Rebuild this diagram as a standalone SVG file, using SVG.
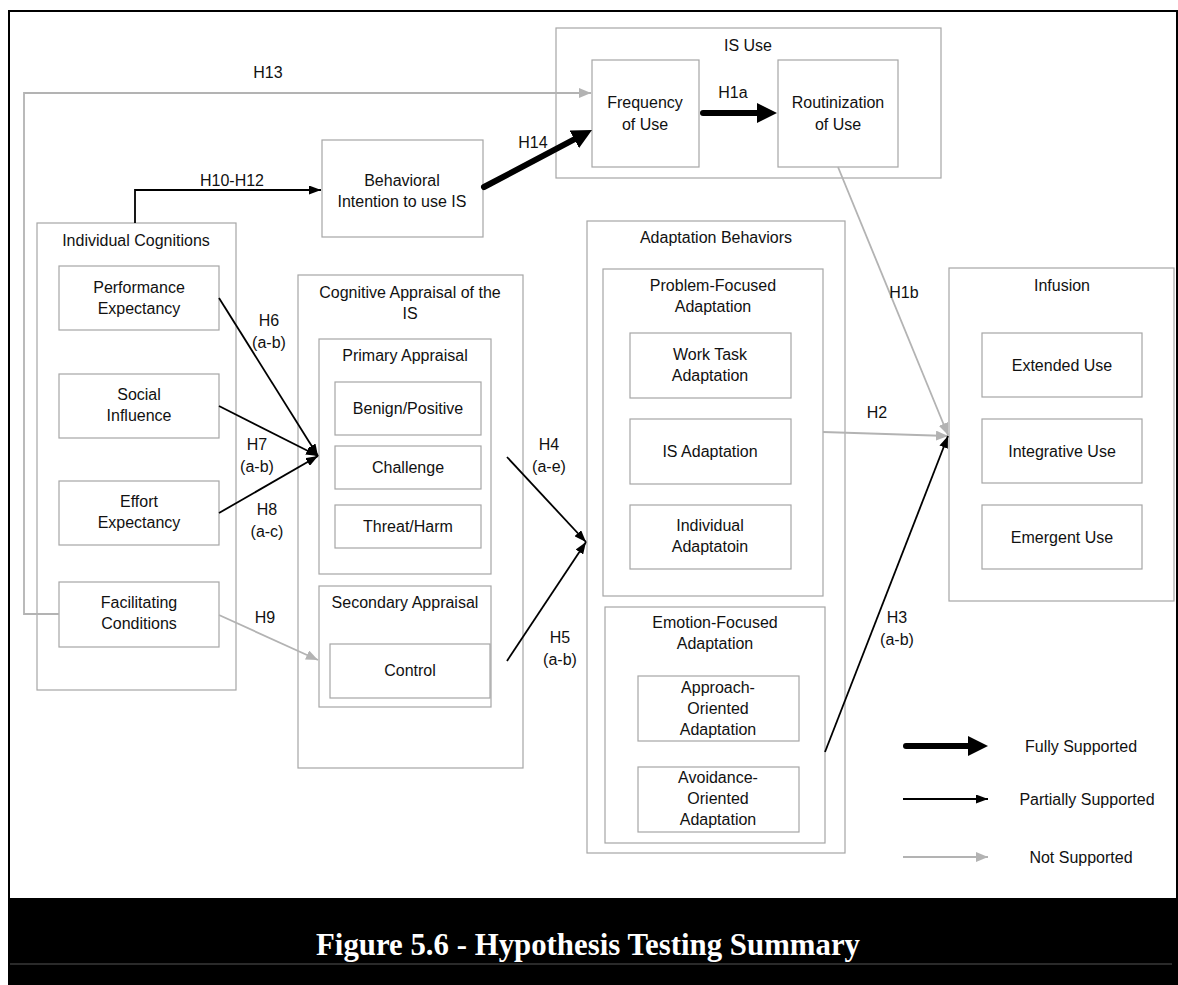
<svg xmlns="http://www.w3.org/2000/svg" width="1178" height="985" viewBox="0 0 1178 985">
  <style>
    .box { fill: #ffffff; stroke: #a6a6a6; stroke-width: 1.2; }
    .t { font-family: "Liberation Sans", Arial, sans-serif; font-size: 16px; fill: #111; text-anchor: middle; }
    .lbl { font-family: "Liberation Sans", Arial, sans-serif; font-size: 16px; fill: #111; text-anchor: middle; }
    .full { stroke: #000; stroke-width: 6; fill: none; stroke-linecap: round; }
    .part { stroke: #000; stroke-width: 1.8; fill: none; }
    .none { stroke: #b3b3b3; stroke-width: 1.8; fill: none; }
    .cap { font-family: "Liberation Serif", "Times New Roman", serif; font-weight: bold; font-size: 32px; fill: #ffffff; }
  </style>
  <defs>
    <!-- heavy head: line ends 2px inside the head, tip 18px further on -->
    <marker id="hFull" markerUnits="userSpaceOnUse" viewBox="0 0 20 20" markerWidth="20" markerHeight="20" refX="2" refY="10" orient="auto">
      <path d="M0,0 L20,10 L0,20 Z" fill="#000"/>
    </marker>
    <marker id="hPart" markerUnits="userSpaceOnUse" viewBox="0 0 12 9" markerWidth="12" markerHeight="9" refX="12" refY="4.5" orient="auto">
      <path d="M0,0 L12,4.5 L0,9 Z" fill="#000"/>
    </marker>
    <marker id="hNone" markerUnits="userSpaceOnUse" viewBox="0 0 12 10" markerWidth="12" markerHeight="10" refX="12" refY="5" orient="auto">
      <path d="M0,0 L12,5 L0,10 Z" fill="#b3b3b3"/>
    </marker>
  </defs>

  <!-- page frame -->
  <rect x="0" y="0" width="1178" height="985" fill="#ffffff"/>
  <rect x="9" y="11" width="1168" height="890" fill="none" stroke="#000" stroke-width="2"/>

  <!-- IS Use -->
  <g id="is-use">
    <rect class="box" x="556" y="28" width="385" height="150"/>
    <text class="t" x="748" y="51">IS Use</text>
  </g>
  <g id="frequency-of-use">
    <rect class="box" x="592" y="60" width="107" height="107"/>
    <text class="t" x="645" y="108">Frequency</text>
    <text class="t" x="645" y="130">of Use</text>
  </g>
  <g id="routinization-of-use">
    <rect class="box" x="778" y="60" width="120" height="107"/>
    <text class="t" x="838" y="108">Routinization</text>
    <text class="t" x="838" y="130">of Use</text>
  </g>

  <!-- Behavioral intention -->
  <g id="behavioral-intention">
    <rect class="box" x="322" y="140" width="161" height="97"/>
    <text class="t" x="402" y="186">Behavioral</text>
    <text class="t" x="402" y="207">Intention to use IS</text>
  </g>

  <!-- Individual cognitions -->
  <g id="individual-cognitions">
    <rect class="box" x="37" y="223" width="199" height="467"/>
    <text class="t" x="136" y="246">Individual Cognitions</text>
  </g>
  <g id="performance-expectancy">
    <rect class="box" x="59" y="266" width="160" height="64"/>
    <text class="t" x="139" y="293">Performance</text>
    <text class="t" x="139" y="314">Expectancy</text>
  </g>
  <g id="social-influence">
    <rect class="box" x="59" y="374" width="160" height="64"/>
    <text class="t" x="139" y="400">Social</text>
    <text class="t" x="139" y="421">Influence</text>
  </g>
  <g id="effort-expectancy">
    <rect class="box" x="59" y="481" width="160" height="64"/>
    <text class="t" x="139" y="507">Effort</text>
    <text class="t" x="139" y="528">Expectancy</text>
  </g>
  <g id="facilitating-conditions">
    <rect class="box" x="59" y="582" width="160" height="65"/>
    <text class="t" x="139" y="608">Facilitating</text>
    <text class="t" x="139" y="629">Conditions</text>
  </g>

  <!-- Cognitive appraisal -->
  <g id="cognitive-appraisal">
    <rect class="box" x="298" y="275" width="225" height="493"/>
    <text class="t" x="410" y="298">Cognitive Appraisal of the</text>
    <text class="t" x="410" y="319">IS</text>
  </g>
  <g id="primary-appraisal">
    <rect class="box" x="319" y="339" width="172" height="235"/>
    <text class="t" x="405" y="361">Primary Appraisal</text>
  </g>
  <g id="benign-positive">
    <rect class="box" x="335" y="382" width="146" height="53"/>
    <text class="t" x="408" y="414">Benign/Positive</text>
  </g>
  <g id="challenge">
    <rect class="box" x="335" y="446" width="146" height="43"/>
    <text class="t" x="408" y="473">Challenge</text>
  </g>
  <g id="threat-harm">
    <rect class="box" x="335" y="505" width="146" height="43"/>
    <text class="t" x="408" y="532">Threat/Harm</text>
  </g>
  <g id="secondary-appraisal">
    <rect class="box" x="319" y="586" width="172" height="121"/>
    <text class="t" x="405" y="608">Secondary Appraisal</text>
  </g>
  <g id="control">
    <rect class="box" x="330" y="644" width="160" height="54"/>
    <text class="t" x="410" y="676">Control</text>
  </g>

  <!-- Adaptation behaviors -->
  <g id="adaptation-behaviors">
    <rect class="box" x="587" y="221" width="258" height="632"/>
    <text class="t" x="716" y="243">Adaptation Behaviors</text>
  </g>
  <g id="problem-focused">
    <rect class="box" x="603" y="269" width="220" height="327"/>
    <text class="t" x="713" y="291">Problem-Focused</text>
    <text class="t" x="713" y="312">Adaptation</text>
  </g>
  <g id="work-task-adaptation">
    <rect class="box" x="630" y="333" width="161" height="65"/>
    <text class="t" x="710" y="360">Work Task</text>
    <text class="t" x="710" y="381">Adaptation</text>
  </g>
  <g id="is-adaptation">
    <rect class="box" x="630" y="419" width="161" height="65"/>
    <text class="t" x="710" y="457">IS Adaptation</text>
  </g>
  <g id="individual-adaptation">
    <rect class="box" x="630" y="505" width="161" height="64"/>
    <text class="t" x="710" y="531">Individual</text>
    <text class="t" x="710" y="552">Adaptatoin</text>
  </g>
  <g id="emotion-focused">
    <rect class="box" x="605" y="607" width="220" height="236"/>
    <text class="t" x="715" y="628">Emotion-Focused</text>
    <text class="t" x="715" y="649">Adaptation</text>
  </g>
  <g id="approach-oriented">
    <rect class="box" x="638" y="676" width="161" height="65"/>
    <text class="t" x="718" y="693">Approach-</text>
    <text class="t" x="718" y="714">Oriented</text>
    <text class="t" x="718" y="735">Adaptation</text>
  </g>
  <g id="avoidance-oriented">
    <rect class="box" x="638" y="767" width="161" height="65"/>
    <text class="t" x="718" y="783">Avoidance-</text>
    <text class="t" x="718" y="804">Oriented</text>
    <text class="t" x="718" y="825">Adaptation</text>
  </g>

  <!-- Infusion -->
  <g id="infusion">
    <rect class="box" x="949" y="268" width="225" height="333"/>
    <text class="t" x="1062" y="291">Infusion</text>
  </g>
  <g id="extended-use">
    <rect class="box" x="982" y="333" width="160" height="64"/>
    <text class="t" x="1062" y="371">Extended Use</text>
  </g>
  <g id="integrative-use">
    <rect class="box" x="982" y="419" width="160" height="64"/>
    <text class="t" x="1062" y="457">Integrative Use</text>
  </g>
  <g id="emergent-use">
    <rect class="box" x="982" y="505" width="160" height="64"/>
    <text class="t" x="1062" y="543">Emergent Use</text>
  </g>

  <!-- connectors -->
  <g id="connectors">
    <!-- not supported -->
    <polyline class="none" points="59,614 24,614 24,93 591,93" marker-end="url(#hNone)"/>
    <line class="none" x1="219" y1="615" x2="318" y2="660" marker-end="url(#hNone)"/>
    <line class="none" x1="838" y1="167" x2="948" y2="435" marker-end="url(#hNone)"/>
    <line class="none" x1="823" y1="432" x2="948" y2="436" marker-end="url(#hNone)"/>
    <!-- partially supported -->
    <polyline class="part" points="135,223 135,190 321,190" marker-end="url(#hPart)"/>
    <line class="part" x1="219" y1="298" x2="318" y2="456" marker-end="url(#hPart)"/>
    <line class="part" x1="219" y1="406" x2="318" y2="456" marker-end="url(#hPart)"/>
    <line class="part" x1="219" y1="513" x2="318" y2="456" marker-end="url(#hPart)"/>
    <line class="part" x1="507" y1="457" x2="586" y2="542" marker-end="url(#hPart)"/>
    <line class="part" x1="507" y1="661" x2="586" y2="542" marker-end="url(#hPart)"/>
    <line class="part" x1="825" y1="752" x2="948" y2="436" marker-end="url(#hPart)"/>
    <!-- fully supported -->
    <line class="full" x1="484" y1="187" x2="576.1" y2="138.4" marker-end="url(#hFull)"/>
    <line class="full" x1="703" y1="113" x2="759" y2="113" marker-end="url(#hFull)"/>

    <!-- hypothesis labels -->
    <text class="lbl" x="268" y="78">H13</text>
    <text class="lbl" x="232" y="186">H10-H12</text>
    <text class="lbl" x="533" y="148">H14</text>
    <text class="lbl" x="733" y="98">H1a</text>
    <text class="lbl" x="904" y="298">H1b</text>
    <text class="lbl" x="877" y="418">H2</text>
    <text class="lbl" x="897" y="623">H3</text>
    <text class="lbl" x="897" y="645">(a-b)</text>
    <text class="lbl" x="549" y="450">H4</text>
    <text class="lbl" x="549" y="472">(a-e)</text>
    <text class="lbl" x="560" y="643">H5</text>
    <text class="lbl" x="560" y="665">(a-b)</text>
    <text class="lbl" x="269" y="326">H6</text>
    <text class="lbl" x="269" y="348">(a-b)</text>
    <text class="lbl" x="257" y="450">H7</text>
    <text class="lbl" x="257" y="472">(a-b)</text>
    <text class="lbl" x="267" y="515">H8</text>
    <text class="lbl" x="267" y="537">(a-c)</text>
    <text class="lbl" x="265" y="623">H9</text>
  </g>

  <!-- legend -->
  <g id="legend">
    <line class="full" x1="906" y1="746" x2="970" y2="746" marker-end="url(#hFull)"/>
    <line class="part" x1="903" y1="799" x2="988" y2="799" marker-end="url(#hPart)"/>
    <line class="none" x1="903" y1="857" x2="988" y2="857" marker-end="url(#hNone)"/>
    <text class="t" x="1081" y="752">Fully Supported</text>
    <text class="t" x="1087" y="805">Partially Supported</text>
    <text class="t" x="1081" y="863">Not Supported</text>
  </g>

  <!-- caption band -->
  <g id="caption">
    <rect x="8" y="898" width="1170" height="87" fill="#000"/>
    <line x1="10" y1="964" x2="1172" y2="964" stroke="#555" stroke-width="1"/>
    <text class="cap" x="316" y="955" textLength="544" lengthAdjust="spacingAndGlyphs">Figure 5.6 - Hypothesis Testing Summary</text>
  </g>
</svg>
